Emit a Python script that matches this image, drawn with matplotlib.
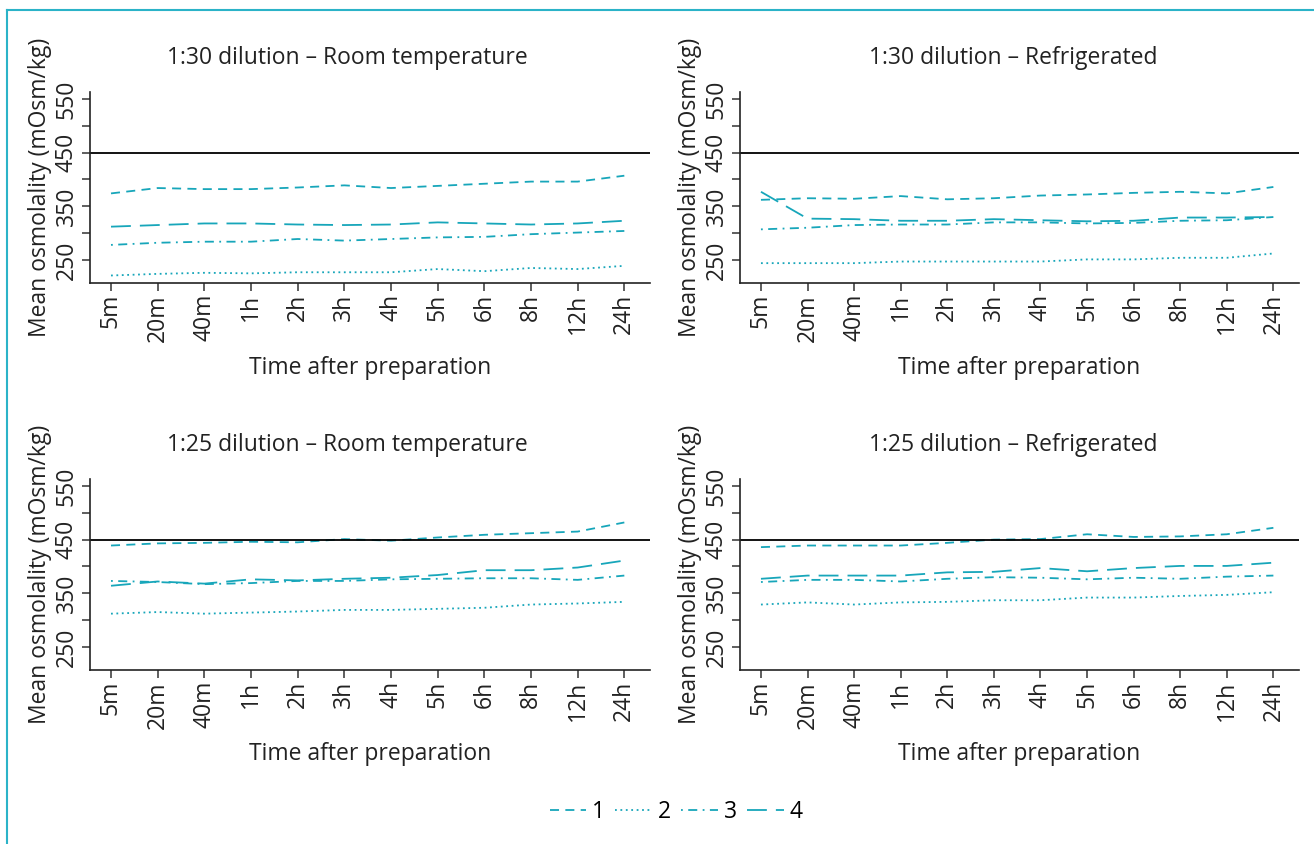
import matplotlib
matplotlib.use("Agg")
import matplotlib.pyplot as plt
from matplotlib.lines import Line2D

plt.rcParams['font.family'] = ['Open Sans', 'DejaVu Sans']

times = ["5m", "20m", "40m", "1h", "2h", "3h", "4h", "5h", "6h", "8h", "12h", "24h"]
series_names = ["1", "2", "3", "4"]

# 1:30 dilution - Room temperature
r30_s1 = [374, 384, 382, 382, 385, 389, 384, 388, 392, 396, 396, 407]
r30_s2 = [221, 224, 226, 225, 227, 227, 227, 233, 229, 235, 233, 239]
r30_s3 = [278, 282, 284, 284, 289, 286, 289, 292, 293, 298, 301, 304]
r30_s4 = [312, 315, 318, 318, 316, 315, 316, 320, 318, 316, 318, 323]

# 1:30 dilution - Refrigerated
f30_s1 = [362, 365, 364, 369, 363, 365, 370, 372, 375, 377, 374, 386]
f30_s2 = [244, 244, 244, 247, 247, 247, 247, 251, 251, 254, 254, 262]
f30_s3 = [307, 310, 315, 316, 316, 320, 320, 318, 319, 323, 324, 330]
f30_s4 = [377, 327, 326, 323, 323, 326, 324, 322, 323, 329, 329, 330]

# 1:25 dilution - Room temperature
r25_s1 = [439, 443, 444, 446, 445, 451, 448, 454, 459, 462, 465, 482]
r25_s2 = [312, 315, 312, 314, 316, 319, 319, 321, 323, 329, 331, 334]
r25_s3 = [373, 371, 367, 369, 373, 373, 376, 377, 378, 378, 375, 383]
r25_s4 = [364, 372, 368, 376, 374, 377, 379, 384, 393, 393, 398, 411]

# 1:25 dilution - Refrigerated
f25_s1 = [436, 439, 439, 439, 444, 450, 451, 460, 455, 456, 460, 472]
f25_s2 = [329, 333, 329, 333, 334, 337, 337, 342, 342, 345, 347, 352]
f25_s3 = [371, 375, 375, 372, 377, 380, 379, 376, 379, 377, 381, 383]
f25_s4 = [377, 383, 383, 383, 389, 390, 397, 391, 397, 401, 401, 407]

titles = ["1:30 dilution \u2013 Room temperature", "1:30 dilution \u2013 Refrigerated",
          "1:25 dilution \u2013 Room temperature", "1:25 dilution \u2013 Refrigerated"]
panels = [
    [r30_s1, r30_s2, r30_s3, r30_s4],
    [f30_s1, f30_s2, f30_s3, f30_s4],
    [r25_s1, r25_s2, r25_s3, r25_s4],
    [f25_s1, f25_s2, f25_s3, f25_s4],
]
reference_level = 450
yticks = [250, 300, 350, 400, 450, 500, 550]
ytick_labels = ["250", "", "350", "", "450", "", "550"]

teal = "#17a6ba"
styles = [(0, (5, 3.5)), (0, (1, 2)), (0, (1, 3, 5, 3)), (0, (11, 5))]

W, H = 1314, 844
fig = plt.figure(figsize=(W / 100, H / 100), dpi=100)

# axes boxes in pixels: left, top, right, bottom
boxes = [(90, 92, 650, 283), (740, 92, 1299, 283),
         (90, 479, 650, 670), (740, 479, 1299, 670)]
title_x = [0.459, 0.488, 0.459, 0.488]

FS = 16.5
xs = list(range(len(times)))
for k, (l, t, r, b) in enumerate(boxes):
    ax = fig.add_axes([l / W, 1 - b / H, (r - l) / W, (b - t) / H])
    for s, vals in enumerate(panels[k]):
        ax.plot(xs, vals, color=teal, lw=1.3, linestyle=styles[s], label=series_names[s])
    ax.axhline(reference_level, color="black", lw=1.3)
    ax.set_xlim(-0.45, len(times) - 1 + 0.55)
    ax.set_ylim(207, 563)
    ax.spines['top'].set_visible(False)
    ax.spines['right'].set_visible(False)
    for sp in ('left', 'bottom'):
        ax.spines[sp].set_linewidth(1.2)
        ax.spines[sp].set_color("#222222")
    ax.set_xticks(xs)
    ax.set_xticklabels(times, rotation=90, fontsize=FS, color="#222222")
    ax.set_yticks(yticks)
    ax.set_yticklabels(ytick_labels, rotation=90, va="center", fontsize=FS, color="#222222")
    ax.tick_params(axis='both', length=6, width=1.1, color="#333333", pad=2)
    ax.set_title(titles[k], fontsize=FS, color="#222222", pad=20, x=title_x[k])
    ax.set_xlabel("Time after preparation", fontsize=FS, color="#222222", labelpad=10)
    ax.set_ylabel("Mean osmolality (mOsm/kg)", fontsize=FS, color="#222222", labelpad=2)
    if k == 0:
        handles, labels = ax.get_legend_handles_labels()

fig.legend(handles, labels, loc="center", bbox_to_anchor=(676 / W, 1 - 812 / H), ncol=4,
           frameon=False, fontsize=FS, handlelength=1.6, handletextpad=0.25,
           columnspacing=0.45)

# decorative frame (left and top)
fig.add_artist(Line2D([7 / W, 7 / W], [0, 1 - 10 / H], transform=fig.transFigure, color="#2bb3c8", lw=1.5))
fig.add_artist(Line2D([7 / W, 1], [1 - 10 / H, 1 - 10 / H], transform=fig.transFigure, color="#2bb3c8", lw=1.5))

fig.savefig("out.png", dpi=100)
